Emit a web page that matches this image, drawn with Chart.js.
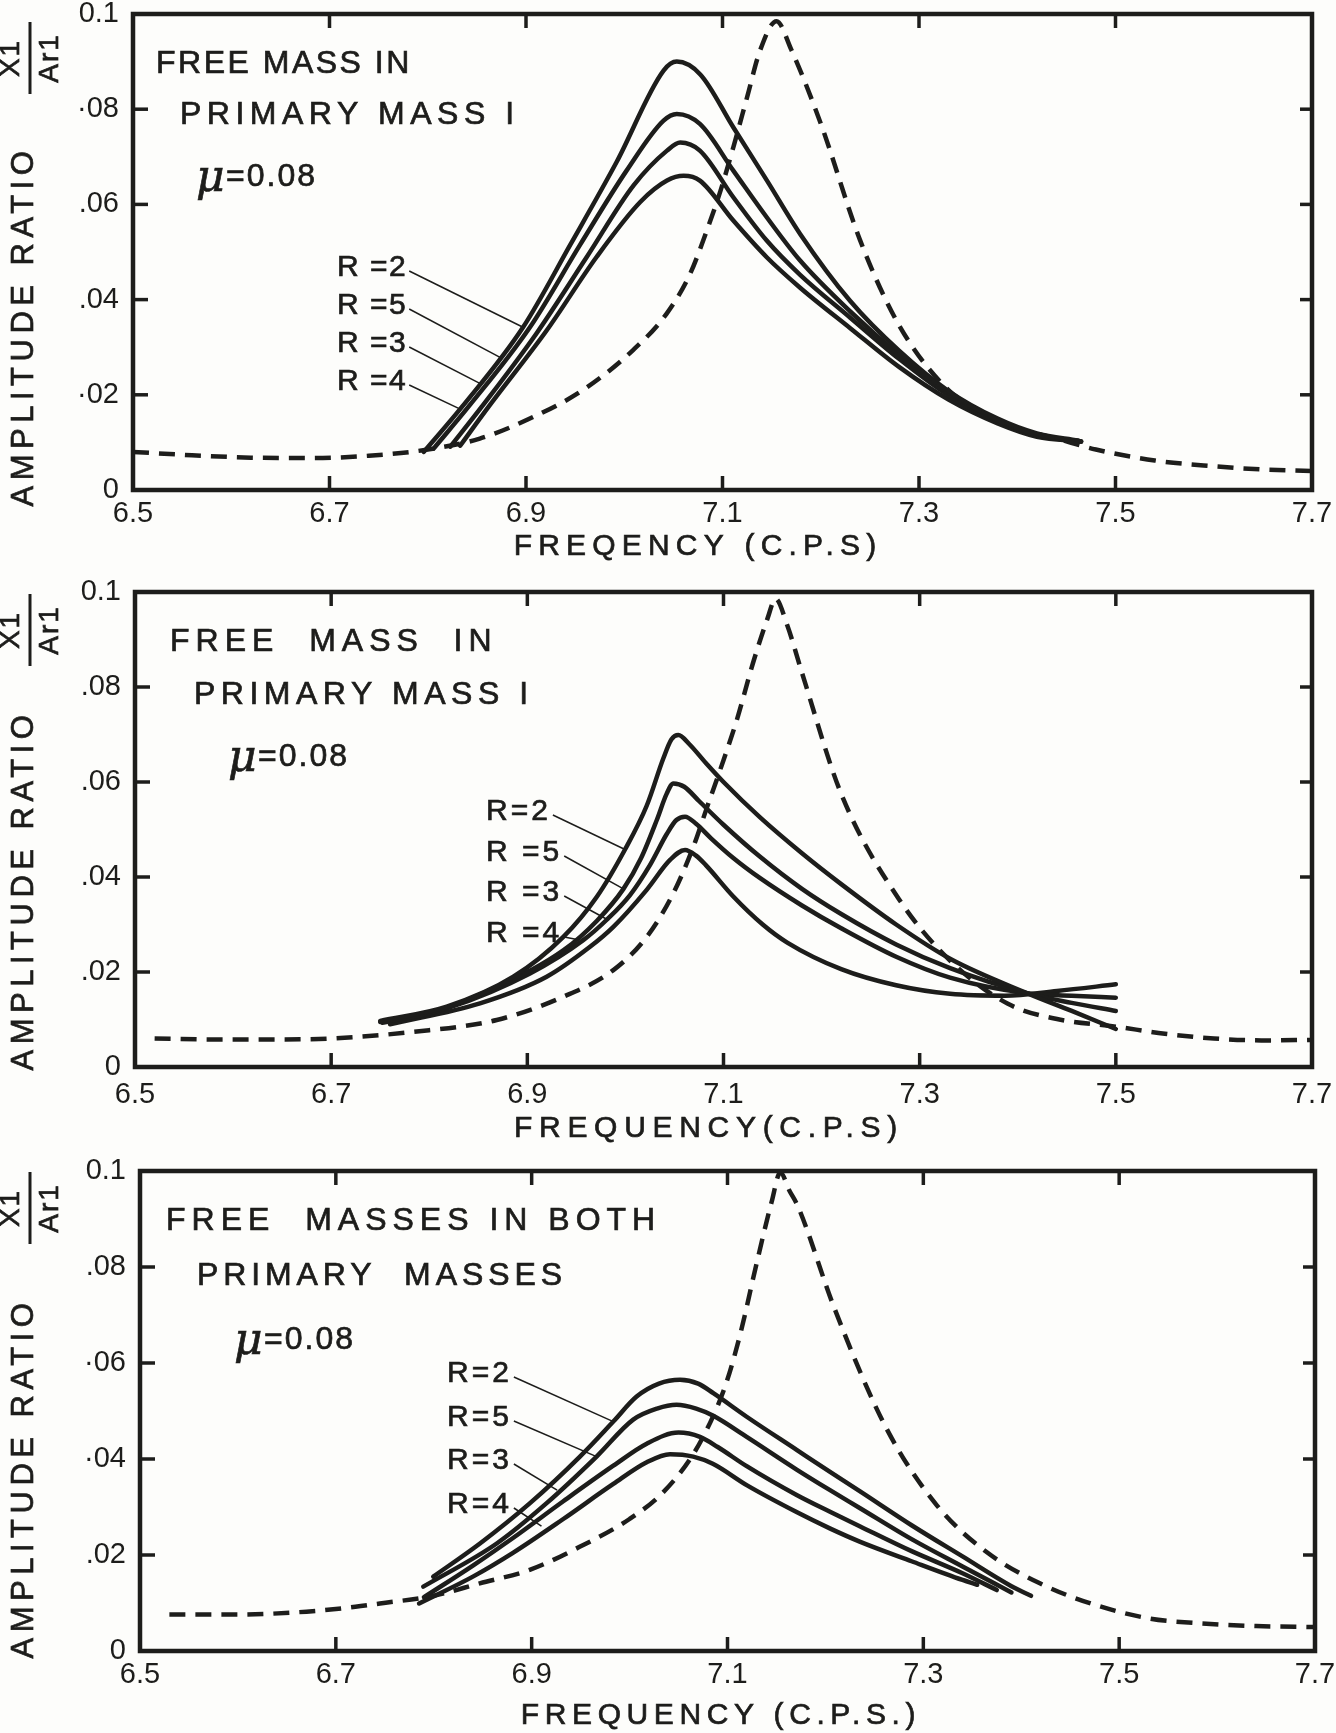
<!DOCTYPE html>
<html><head><meta charset="utf-8">
<script src="https://cdn.jsdelivr.net/npm/chart.js@4/dist/chart.umd.min.js"></script>
<style>
html,body{margin:0;padding:0;background:#fdfdfb;}
#wrap{position:relative;width:1336px;height:1733px;overflow:hidden;}
canvas{position:absolute;left:0;}
</style>
</head><body><div id="wrap">
<canvas id="c1" width="1336" height="575" style="top:0px"></canvas>
<canvas id="c2" width="1336" height="580" style="top:575px"></canvas>
<canvas id="c3" width="1336" height="578" style="top:1155px"></canvas>
</div>
<script>
// ---------- tick labels ----------
const xTickValues = [6.5, 6.7, 6.9, 7.1, 7.3, 7.5, 7.7];
const xTickLabels = ['6.5', '6.7', '6.9', '7.1', '7.3', '7.5', '7.7'];
const yTickValues = [0, 0.02, 0.04, 0.06, 0.08, 0.1];
const yTickLabels1 = ['0', '·02', '.04', '.06', '·08', '0.1'];
const yTickLabels2 = ['0', '.02', '.04', '.06', '.08', '0.1'];
const yTickLabels3 = ['0', '.02', '·04', '·06', '.08', '0.1'];

// ---------- panel 1 : free mass in primary mass I ----------
const p1RefX = [6.50, 6.56, 6.62, 6.68, 6.74, 6.80, 6.853, 6.908, 6.958, 7.009, 7.043, 7.067, 7.084, 7.098, 7.111, 7.125, 7.138, 7.155, 7.17, 7.20, 7.24, 7.28, 7.33, 7.37, 7.40, 7.44, 7.48, 7.54, 7.60, 7.65, 7.70];
const p1RefY = [0.0080, 0.0073, 0.0068, 0.0067, 0.0072, 0.0085, 0.0108, 0.0154, 0.0210, 0.0294, 0.0370, 0.0454, 0.0545, 0.0629, 0.0720, 0.0825, 0.0922, 0.0985, 0.0925, 0.0770, 0.0525, 0.0345, 0.0210, 0.0158, 0.0130, 0.0108, 0.0085, 0.0062, 0.0050, 0.0043, 0.0040];
const p1R2X = [6.796, 6.835, 6.897, 6.945, 6.9925, 7.040, 7.0535, 7.0774, 7.1113, 7.1453, 7.179, 7.23, 7.28, 7.33, 7.38, 7.42, 7.462];
const p1R2Y = [0.0080, 0.0175, 0.0342, 0.0515, 0.0690, 0.0881, 0.0900, 0.0873, 0.0761, 0.0650, 0.0538, 0.0397, 0.0292, 0.0208, 0.0150, 0.0119, 0.0104];
const p1R5X = [6.806, 6.8415, 6.904, 6.955, 7.0027, 7.040, 7.0535, 7.077, 7.111, 7.145, 7.179, 7.23, 7.28, 7.33, 7.38, 7.42, 7.465];
const p1R5Y = [0.0087, 0.0175, 0.0342, 0.0515, 0.0672, 0.0776, 0.0790, 0.0769, 0.0671, 0.0573, 0.0482, 0.0375, 0.0283, 0.0204, 0.0148, 0.0116, 0.0102];
const p1R3X = [6.823, 6.855, 6.911, 6.962, 7.0095, 7.0435, 7.057, 7.077, 7.111, 7.145, 7.179, 7.23, 7.28, 7.33, 7.38, 7.42, 7.465];
const p1R3Y = [0.0091, 0.0175, 0.0330, 0.0490, 0.0640, 0.0713, 0.0730, 0.0713, 0.0615, 0.0524, 0.0452, 0.0362, 0.0275, 0.0199, 0.0145, 0.0115, 0.0102];
const p1R4X = [6.833, 6.862, 6.921, 6.972, 7.0163, 7.0435, 7.0604, 7.077, 7.111, 7.145, 7.179, 7.23, 7.28, 7.33, 7.38, 7.42, 7.465];
const p1R4Y = [0.0093, 0.0175, 0.0335, 0.0490, 0.0605, 0.0650, 0.0660, 0.0650, 0.0566, 0.0489, 0.0425, 0.0340, 0.0258, 0.0190, 0.0140, 0.0112, 0.0102];

// ---------- panel 2 : free mass in primary mass I ----------
const p2RefX = [6.52, 6.58, 6.64, 6.699, 6.7837, 6.8688, 6.9367, 6.9877, 7.0217, 7.0489, 7.0693, 7.0829, 7.0965, 7.1135, 7.13, 7.145, 7.153, 7.165, 7.18, 7.22, 7.28, 7.33, 7.39, 7.44, 7.50, 7.55, 7.60, 7.65, 7.70];
const p2RefY = [0.0060, 0.0058, 0.0058, 0.0060, 0.0074, 0.0099, 0.0148, 0.0204, 0.0274, 0.0366, 0.0464, 0.0545, 0.0625, 0.0730, 0.0850, 0.0945, 0.0986, 0.0930, 0.0830, 0.0575, 0.0350, 0.0226, 0.0133, 0.0101, 0.0085, 0.0070, 0.0060, 0.0056, 0.0057];
const p2R2X = [6.75, 6.8178, 6.8857, 6.9367, 6.9707, 6.9996, 7.0217, 7.0387, 7.047, 7.054, 7.065, 7.082, 7.10, 7.137, 7.18, 7.22, 7.276, 7.331, 7.41, 7.455, 7.50];
const p2R2Y = [0.0097, 0.0127, 0.0190, 0.0274, 0.0358, 0.0458, 0.0550, 0.0650, 0.0690, 0.0699, 0.0680, 0.0640, 0.0600, 0.0526, 0.0450, 0.0385, 0.0300, 0.0228, 0.0155, 0.0118, 0.0080];
const p2R5X = [6.75, 6.80, 6.869, 6.937, 6.971, 6.998, 7.016, 7.032, 7.042, 7.0489, 7.06, 7.075, 7.10, 7.137, 7.18, 7.22, 7.276, 7.331, 7.41, 7.455, 7.50];
const p2R5Y = [0.0095, 0.0113, 0.0169, 0.0246, 0.0308, 0.0375, 0.0440, 0.0520, 0.0575, 0.0597, 0.0590, 0.0560, 0.0510, 0.0443, 0.0375, 0.0322, 0.0258, 0.0208, 0.0155, 0.0135, 0.0118];
const p2R3X = [6.752, 6.82, 6.9027, 6.957, 6.981, 7.0047, 7.025, 7.042, 7.052, 7.0608, 7.072, 7.087, 7.11, 7.137, 7.18, 7.22, 7.276, 7.331, 7.41, 7.455, 7.50];
const p2R3Y = [0.0093, 0.0125, 0.0197, 0.0267, 0.0310, 0.0362, 0.0425, 0.0490, 0.0520, 0.0527, 0.0512, 0.0482, 0.0440, 0.0398, 0.0340, 0.0292, 0.0232, 0.0188, 0.0155, 0.0150, 0.0146];
const p2R4X = [6.76, 6.8517, 6.9197, 6.9639, 6.9877, 7.0217, 7.0455, 7.0608, 7.072, 7.082, 7.11, 7.14, 7.165, 7.22, 7.276, 7.331, 7.387, 7.44, 7.50];
const p2R4Y = [0.0090, 0.0134, 0.0190, 0.0253, 0.0295, 0.0373, 0.0436, 0.0457, 0.0445, 0.0425, 0.0359, 0.0300, 0.0262, 0.0206, 0.0172, 0.0154, 0.0150, 0.0160, 0.0174];

// ---------- panel 3 : free masses in both primary masses ----------
const p3RefX = [6.53, 6.60, 6.67, 6.72, 6.745, 6.80, 6.847, 6.898, 6.949, 7.000, 7.034, 7.065, 7.0855, 7.099, 7.113, 7.13, 7.145, 7.154, 7.163, 7.172, 7.209, 7.262, 7.314, 7.366, 7.419, 7.471, 7.53, 7.58, 7.64, 7.70];
const p3RefY = [0.0076, 0.0076, 0.0082, 0.0092, 0.0099, 0.0115, 0.0141, 0.0169, 0.0217, 0.0275, 0.0330, 0.0410, 0.0490, 0.0560, 0.0660, 0.0810, 0.0935, 0.0997, 0.0960, 0.0926, 0.0715, 0.0465, 0.0303, 0.0204, 0.0141, 0.0099, 0.0068, 0.0058, 0.0052, 0.0050];
const p3R2X = [6.7995, 6.8472, 6.8983, 6.9493, 6.9834, 7.0072, 7.03, 7.0515, 7.07, 7.0855, 7.1196, 7.1706, 7.2047, 7.235, 7.288, 7.34, 7.39, 7.41];
const p3R2Y = [0.0155, 0.0224, 0.0308, 0.0405, 0.0478, 0.0530, 0.0557, 0.0565, 0.0557, 0.0537, 0.0488, 0.0419, 0.0373, 0.0333, 0.0262, 0.0197, 0.0135, 0.0115];
const p3R5X = [6.7893, 6.8643, 6.9153, 6.9663, 7.0037, 7.028, 7.048, 7.068, 7.0855, 7.1196, 7.1706, 7.2047, 7.235, 7.288, 7.34, 7.39];
const p3R5Y = [0.0134, 0.0224, 0.0308, 0.0405, 0.0482, 0.0505, 0.0513, 0.0505, 0.0490, 0.0446, 0.0378, 0.0335, 0.0298, 0.0233, 0.0176, 0.0122];
const p3R3X = [6.79, 6.84, 6.8813, 6.9323, 6.9834, 7.0175, 7.05, 7.0719, 7.09, 7.1196, 7.1706, 7.2047, 7.235, 7.288, 7.34, 7.375];
const p3R3Y = [0.0112, 0.0178, 0.0236, 0.0312, 0.0386, 0.0432, 0.0455, 0.0446, 0.0425, 0.0385, 0.0325, 0.0290, 0.0260, 0.0208, 0.0162, 0.0127];
const p3R4X = [6.785, 6.84, 6.8813, 6.9323, 6.9834, 7.0175, 7.0413, 7.065, 7.085, 7.12, 7.17, 7.205, 7.235, 7.288, 7.34, 7.355];
const p3R4Y = [0.0099, 0.0155, 0.0205, 0.0275, 0.0348, 0.0393, 0.0410, 0.0405, 0.0390, 0.0345, 0.0290, 0.0255, 0.0228, 0.0187, 0.0148, 0.0138];

// ---------- drawing ----------
const INK = '#1d1d1b';
const SANS = '"Liberation Sans", Arial, sans-serif';

function pts(xs, ys) { return xs.map((x, i) => ({ x: x, y: ys[i] })); }
function solid(label, xs, ys) {
  return { label: label, data: pts(xs, ys), borderColor: INK, borderWidth: 4.5, pointRadius: 0,
    cubicInterpolationMode: 'monotone', fill: false, borderCapStyle: 'round', borderJoinStyle: 'round' };
}
function dashed(xs, ys) {
  return { label: 'reference', data: pts(xs, ys), borderColor: INK, borderWidth: 4.5, pointRadius: 0,
    borderDash: [16, 10], cubicInterpolationMode: 'monotone', fill: false };
}
function txt(ctx, s, x, y, font, ls, align) {
  ctx.font = font; ctx.letterSpacing = (ls || 0) + 'px';
  ctx.textAlign = align || 'left'; ctx.textBaseline = 'middle';
  ctx.fillStyle = INK; ctx.strokeStyle = INK; ctx.lineWidth = 0.7;
  ctx.fillText(s, x, y); ctx.strokeText(s, x, y);
}

function makePanel(id, P) {
  const decor = {
    id: 'decor' + id,
    afterDraw(chart) {
      const ctx = chart.ctx, a = chart.chartArea, xs = chart.scales.x, ys = chart.scales.y;
      const T = P.canvasTop;
      ctx.save();
      // frame
      ctx.strokeStyle = INK; ctx.lineWidth = 4.5; ctx.lineJoin = 'miter';
      ctx.strokeRect(a.left, a.top, a.right - a.left, a.bottom - a.top);
      // inward tick marks
      ctx.lineWidth = 3.5;
      xTickValues.slice(1, -1).forEach(v => {
        const px = xs.getPixelForValue(v);
        ctx.beginPath(); ctx.moveTo(px, a.bottom); ctx.lineTo(px, a.bottom - 14); ctx.stroke();
        ctx.beginPath(); ctx.moveTo(px, a.top); ctx.lineTo(px, a.top + 14); ctx.stroke();
      });
      yTickValues.slice(1, -1).forEach(v => {
        const py = ys.getPixelForValue(v);
        ctx.beginPath(); ctx.moveTo(a.left, py); ctx.lineTo(a.left + 15, py); ctx.stroke();
        ctx.beginPath(); ctx.moveTo(a.right, py); ctx.lineTo(a.right - 12, py); ctx.stroke();
      });
      // panel titles
      P.titles.forEach(t => txt(ctx, t.t, t.x, t.y - T, '32px ' + SANS, t.ls, 'left'));
      // mu = 0.08
      txt(ctx, 'μ', P.mu.x, P.mu.y - T + 3, 'italic 44px "DejaVu Serif", serif', 0, 'left');
      txt(ctx, '=0.08', P.mu.x + 30, P.mu.y - T, '32px ' + SANS, 2, 'left');
      // R labels with leader lines
      P.rLabels.forEach(r => {
        txt(ctx, r.t, r.x, r.y - T, '30px ' + SANS, P.rLs, 'left');
        ctx.font = '30px ' + SANS; ctx.letterSpacing = P.rLs + 'px';
        const w = ctx.measureText(r.t).width;
        ctx.lineWidth = 1.5; ctx.strokeStyle = INK;
        ctx.beginPath(); ctx.moveTo(r.x + w + 2, r.y - T + 3);
        ctx.lineTo(xs.getPixelForValue(r.end[0]), ys.getPixelForValue(r.end[1])); ctx.stroke();
      });
      // x axis title
      txt(ctx, P.xTitle.t, P.xTitle.cx, P.xTitle.y - T, '30px ' + SANS, P.xTitle.ls, 'center');
      // y axis title (rotated) and amplitude fraction
      ctx.save();
      ctx.translate(P.yTitle.cx, P.yTitle.cy - T); ctx.rotate(-Math.PI / 2);
      txt(ctx, 'AMPLITUDE RATIO', 0, 0, '31px ' + SANS, 5.5, 'center');
      ctx.restore();
      ctx.save();
      ctx.translate(P.frac.cx, P.frac.cy - T); ctx.rotate(-Math.PI / 2);
      ctx.lineWidth = 3; ctx.strokeStyle = INK;
      ctx.beginPath(); ctx.moveTo(-36, 0); ctx.lineTo(36, 0); ctx.stroke();
      txt(ctx, 'Ar1', 0, 20, '28px ' + SANS, 2, 'center');
      txt(ctx, 'X1', 0, -19, '28px ' + SANS, 2, 'center');
      ctx.restore();
      ctx.restore();
    }
  };
  const cfg = {
    type: 'line',
    data: { datasets: [dashed(P.ref[0], P.ref[1])].concat(P.series.map(s => solid(s[0], s[1], s[2]))) },
    options: {
      responsive: false, animation: false, devicePixelRatio: 1,
      layout: { padding: { top: P.plot.top - P.canvasTop, right: 1336 - P.plot.right, left: 0, bottom: 0 } },
      plugins: { legend: { display: false }, tooltip: { enabled: false }, title: { display: false } },
      scales: {
        x: {
          type: 'linear', min: 6.5, max: 7.7,
          afterBuildTicks: s => { s.ticks = xTickValues.map(v => ({ value: v })); },
          afterFit: s => { s.height = P.canvasTop + P.canvasH - P.plot.bottom; s.paddingLeft = 0; s.paddingRight = 0; },
          grid: { display: false, drawTicks: false }, border: { display: false },
          ticks: { autoSkip: false, maxRotation: 0, padding: P.xPad, color: INK,
            font: { family: SANS, size: 29 }, callback: (v, i) => xTickLabels[i] }
        },
        y: {
          type: 'linear', min: 0, max: 0.1,
          afterBuildTicks: s => { s.ticks = yTickValues.map(v => ({ value: v })); },
          afterFit: s => { s.width = P.plot.left; s.paddingTop = 0; s.paddingBottom = 0; },
          grid: { display: false, drawTicks: false }, border: { display: false },
          ticks: { padding: 14, color: INK, font: { family: SANS, size: 29 }, callback: (v, i) => P.yLabels[i] }
        }
      }
    },
    plugins: [decor]
  };
  return new Chart(document.getElementById(id), cfg);
}

makePanel('c1', {
  canvasTop: 0, canvasH: 575, plot: { top: 14, bottom: 490, left: 133, right: 1312 }, xPad: 7,
  yLabels: yTickLabels1,
  ref: [p1RefX, p1RefY],
  series: [['R=2', p1R2X, p1R2Y], ['R=5', p1R5X, p1R5Y], ['R=3', p1R3X, p1R3Y], ['R=4', p1R4X, p1R4Y]],
  titles: [{ t: 'FREE MASS IN', x: 156, y: 64, ls: 2.5 }, { t: 'PRIMARY MASS I', x: 180, y: 115, ls: 5.5 }],
  mu: { x: 196, y: 177 }, rLs: 1.5,
  rLabels: [{ t: 'R =2', x: 337, y: 268, end: [6.897, 0.0342] }, { t: 'R =5', x: 337, y: 306, end: [6.876, 0.0276] },
            { t: 'R =3', x: 337, y: 344, end: [6.853, 0.0224] }, { t: 'R =4', x: 337, y: 382, end: [6.832, 0.0171] }],
  xTitle: { t: 'FREQENCY (C.P.S)', cx: 698, y: 547, ls: 6.2 },
  yTitle: { cx: 24, cy: 326 }, frac: { cx: 30, cy: 58 }
});
makePanel('c2', {
  canvasTop: 575, canvasH: 580, plot: { top: 592, bottom: 1067, left: 135, right: 1312 }, xPad: 11,
  yLabels: yTickLabels2,
  ref: [p2RefX, p2RefY],
  series: [['R=2', p2R2X, p2R2Y], ['R=5', p2R5X, p2R5Y], ['R=3', p2R3X, p2R3Y], ['R=4', p2R4X, p2R4Y]],
  titles: [{ t: 'FREE  MASS  IN', x: 170, y: 642, ls: 6 }, { t: 'PRIMARY MASS I', x: 194, y: 695, ls: 5.5 }],
  mu: { x: 228, y: 757 }, rLs: 3,
  rLabels: [{ t: 'R=2', x: 486, y: 812, end: [6.9996, 0.0458] }, { t: 'R =5', x: 486, y: 853, end: [6.998, 0.0375] },
            { t: 'R =3', x: 486, y: 893, end: [6.982, 0.031] }, { t: 'R =4', x: 486, y: 934, end: [6.952, 0.0268] }],
  xTitle: { t: 'FREQUENCY(C.P.S)', cx: 709, y: 1129, ls: 6.7 },
  yTitle: { cx: 24, cy: 890 }, frac: { cx: 30, cy: 630 }
});
makePanel('c3', {
  canvasTop: 1155, canvasH: 578, plot: { top: 1171, bottom: 1651, left: 140, right: 1315 }, xPad: 7,
  yLabels: yTickLabels3,
  ref: [p3RefX, p3RefY],
  series: [['R=2', p3R2X, p3R2Y], ['R=5', p3R5X, p3R5Y], ['R=3', p3R3X, p3R3Y], ['R=4', p3R4X, p3R4Y]],
  titles: [{ t: 'FREE  MASSES IN BOTH', x: 166, y: 1221, ls: 6 }, { t: 'PRIMARY  MASSES', x: 197, y: 1276, ls: 4.9 }],
  mu: { x: 234, y: 1340 }, rLs: 3,
  rLabels: [{ t: 'R=2', x: 447, y: 1374, end: [6.9834, 0.0478] }, { t: 'R=5', x: 447, y: 1418, end: [6.9663, 0.0405] },
            { t: 'R=3', x: 447, y: 1461, end: [6.926, 0.0335] }, { t: 'R=4', x: 447, y: 1505, end: [6.91, 0.026] }],
  xTitle: { t: 'FREQUENCY (C.P.S.)', cx: 721, y: 1716, ls: 5.6 },
  yTitle: { cx: 24, cy: 1478 }, frac: { cx: 30, cy: 1208 }
});
</script>
</body></html>
